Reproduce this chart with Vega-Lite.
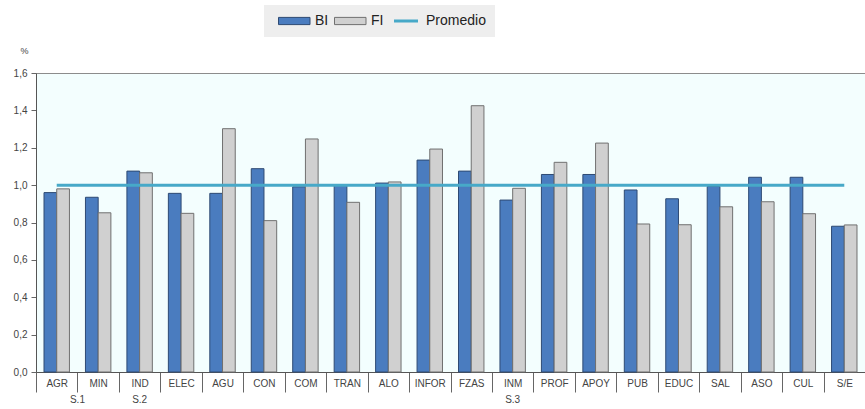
{
  "$schema": "https://vega.github.io/schema/vega-lite/v6.json",
  "width": 829,
  "height": 299,
  "autosize": {"type": "none"},
  "padding": {"left": 36, "top": 73, "right": 0, "bottom": 37},
  "background": "white",
  "config": {
    "view": {"fill": "#F3FEFE", "stroke": "#8C8C8C", "strokeWidth": 1},
    "font": "Liberation Sans"
  },
  "data": {
    "values": [
      {"cat": "AGR", "BI": 0.96, "FI": 0.98, "Promedio": 1.0},
      {"cat": "MIN", "BI": 0.935, "FI": 0.852, "Promedio": 1.0},
      {"cat": "IND", "BI": 1.075, "FI": 1.066, "Promedio": 1.0},
      {"cat": "ELEC", "BI": 0.956, "FI": 0.849, "Promedio": 1.0},
      {"cat": "AGU", "BI": 0.956, "FI": 1.302, "Promedio": 1.0},
      {"cat": "CON", "BI": 1.088, "FI": 0.81, "Promedio": 1.0},
      {"cat": "COM", "BI": 0.991, "FI": 1.247, "Promedio": 1.0},
      {"cat": "TRAN", "BI": 0.997, "FI": 0.908, "Promedio": 1.0},
      {"cat": "ALO", "BI": 1.011, "FI": 1.017, "Promedio": 1.0},
      {"cat": "INFOR", "BI": 1.134, "FI": 1.193, "Promedio": 1.0},
      {"cat": "FZAS", "BI": 1.075, "FI": 1.425, "Promedio": 1.0},
      {"cat": "INM", "BI": 0.92, "FI": 0.983, "Promedio": 1.0},
      {"cat": "PROF", "BI": 1.057, "FI": 1.122, "Promedio": 1.0},
      {"cat": "APOY", "BI": 1.057, "FI": 1.225, "Promedio": 1.0},
      {"cat": "PUB", "BI": 0.974, "FI": 0.792, "Promedio": 1.0},
      {"cat": "EDUC", "BI": 0.927, "FI": 0.788, "Promedio": 1.0},
      {"cat": "SAL", "BI": 0.993, "FI": 0.884, "Promedio": 1.0},
      {"cat": "ASO", "BI": 1.042, "FI": 0.911, "Promedio": 1.0},
      {"cat": "CUL", "BI": 1.042, "FI": 0.847, "Promedio": 1.0},
      {"cat": "S/E", "BI": 0.78, "FI": 0.787, "Promedio": 1.0}
    ]
  },
  "encoding": {
    "x": {
      "field": "cat",
      "type": "nominal",
      "sort": null,
      "scale": {
        "domain": ["AGR", "MIN", "IND", "ELEC", "AGU", "CON", "COM", "TRAN", "ALO", "INFOR", "FZAS", "INM", "PROF", "APOY", "PUB", "EDUC", "SAL", "ASO", "CUL", "S/E"],
        "paddingInner": 0,
        "paddingOuter": 0
      },
      "axis": {
        "title": null,
        "labelAngle": 0,
        "tickBand": "extent",
        "tickSize": 20,
        "tickColor": "#666666",
        "domainColor": "#555555",
        "labelPadding": -14,
        "labelFontSize": 10,
        "labelColor": "#444444",
        "encode": {
          "ticks": {
            "update": {
              "y2": {"signal": "datum.extra || datum.value === 'MIN' || datum.value === 'IND' ? 37 : 20"}
            }
          }
        }
      }
    },
    "y": {
      "type": "quantitative",
      "scale": {"domain": [0, 1.6], "nice": false, "zero": true},
      "axis": {
        "title": "%",
        "titleAngle": 0,
        "titleX": -12,
        "titleY": -23,
        "titleAlign": "center",
        "titleBaseline": "middle",
        "titleFontSize": 9,
        "titleFontWeight": "normal",
        "titleColor": "#444444",
        "values": [0, 0.2, 0.4, 0.6, 0.8, 1.0, 1.2, 1.4, 1.6],
        "labelExpr": "replace(format(datum.value, '.1f'), '.', ',')",
        "labelOverlap": false,
        "grid": false,
        "tickSize": 5,
        "tickColor": "#666666",
        "domainColor": "#555555",
        "labelFontSize": 10,
        "labelColor": "#444444",
        "labelPadding": 4
      }
    }
  },
  "layer": [
    {
      "transform": [{"fold": ["BI", "FI"], "as": ["serie", "valor"]}],
      "mark": {"type": "bar", "strokeWidth": 1},
      "encoding": {
        "y": {"field": "valor", "type": "quantitative"},
        "xOffset": {
          "field": "serie",
          "type": "nominal",
          "scale": {"paddingInner": 0, "paddingOuter": 0.63}
        },
        "color": {
          "field": "serie",
          "type": "nominal",
          "scale": {"domain": ["BI", "FI", "Promedio"], "range": ["#4A7CBF", "#D0D0D0", "#47A9C8"]},
          "legend": {
            "title": null,
            "orient": "none",
            "legendX": 228,
            "legendY": -68,
            "direction": "horizontal",
            "fillColor": "#EEEEEE",
            "padding": 9,
            "symbolSize": 900,
            "columnPadding": 0,
            "labelOffset": 28,
            "labelFontSize": 14,
            "labelColor": "#222222",
            "values": ["BI", "FI", "Promedio"],
            "encode": {
              "symbols": {
                "update": {
                  "shape": {"signal": "datum.label === 'Promedio' ? 'M0.2,0H1.8' : 'M-0.1,-0.24H2.0V0.24H-0.1Z'"},
                  "size": {"value": 900},
                  "strokeWidth": {"signal": "datum.label === 'Promedio' ? 3 : 1"},
                  "stroke": {"signal": "datum.label === 'Promedio' ? '#47A9C8' : (datum.label === 'BI' ? '#2E4A73' : '#707070')"},
                  "fill": {"signal": "datum.label === 'Promedio' ? 'transparent' : (datum.label === 'BI' ? '#4A7CBF' : '#D0D0D0')"},
                  "opacity": {"value": 1}
                }
              }
            }
          }
        },
        "stroke": {
          "field": "serie",
          "type": "nominal",
          "scale": {"domain": ["BI", "FI"], "range": ["#2E4A73", "#707070"]},
          "legend": null
        }
      }
    },
    {
      "mark": {"type": "line", "strokeWidth": 3, "color": "#47A9C8"},
      "encoding": {
        "y": {"field": "Promedio", "type": "quantitative"}
      }
    },
    {
      "data": {"values": [{"cat": "AGR", "grupo": "S.1"}]},
      "mark": {"type": "text", "fontSize": 10, "color": "#444444", "baseline": "middle"},
      "encoding": {
        "x": {"field": "cat", "type": "nominal", "bandPosition": 1},
        "y": {"datum": -0.15},
        "text": {"field": "grupo"}
      }
    },
    {
      "data": {"values": [{"cat": "IND", "grupo": "S.2"}, {"cat": "INM", "grupo": "S.3"}]},
      "mark": {"type": "text", "fontSize": 10, "color": "#444444", "baseline": "middle"},
      "encoding": {
        "x": {"field": "cat", "type": "nominal", "bandPosition": 0.5},
        "y": {"datum": -0.15},
        "text": {"field": "grupo"}
      }
    }
  ]
}
